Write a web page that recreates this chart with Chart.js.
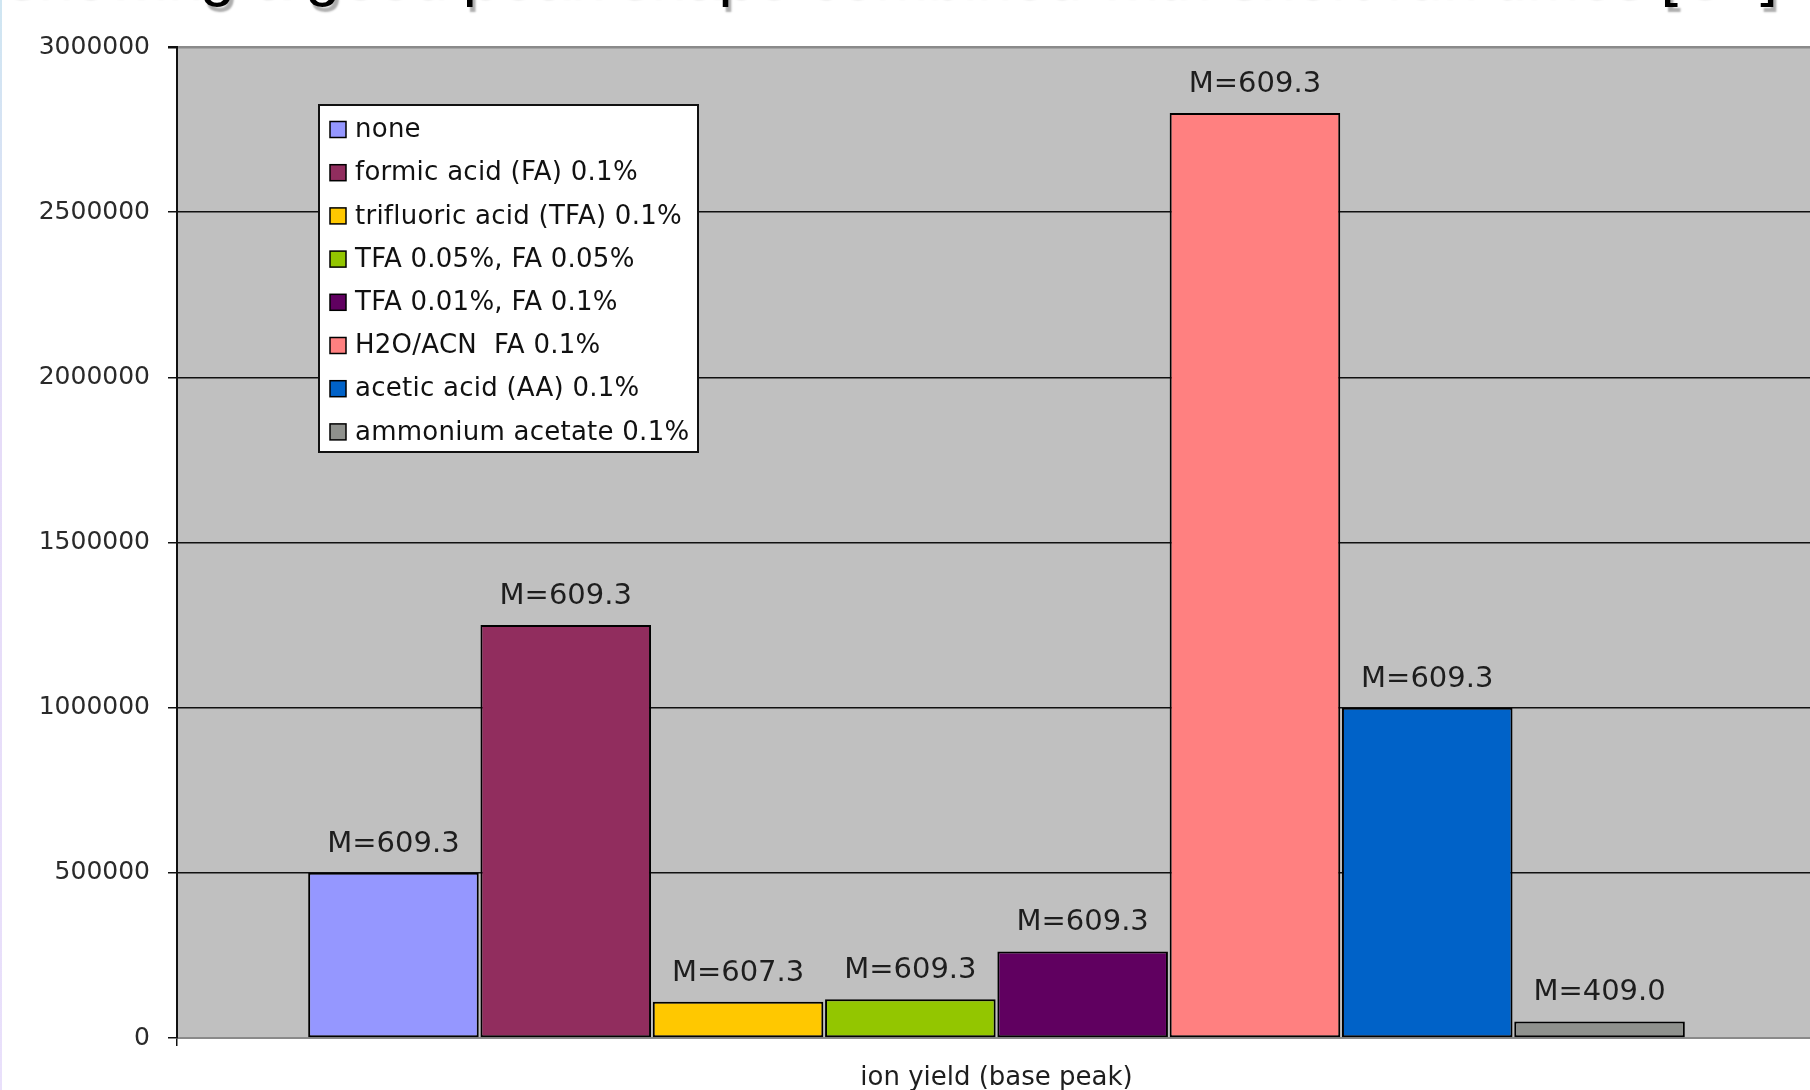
<!DOCTYPE html>
<html>
<head>
<meta charset="utf-8">
<script src="https://cdn.jsdelivr.net/npm/chart.js@4/dist/chart.umd.min.js"></script>
<style>
  html, body { margin: 0; padding: 0; background: #fff; overflow: hidden; }
  #wrap { position: relative; width: 1810px; height: 1090px; overflow: hidden; }
  #chart { position: absolute; left: 0; top: 0; }
  #edge { position: absolute; left: 0; top: 0; width: 2px; height: 1090px;
          background: linear-gradient(#cfe6f2, #e6dcf8 40%, #e9e0fb); }
</style>
</head>
<body>
<div id="wrap">
  <canvas id="chart" width="1830" height="1090"></canvas>
  <div id="edge"></div>
</div>
<script>
// ---- chart data ----
const categories = ['ion yield (base peak)'];
const seriesNames = [
  'none',
  'formic acid (FA) 0.1%',
  'trifluoric acid (TFA) 0.1%',
  'TFA 0.05%, FA 0.05%',
  'TFA 0.01%, FA 0.1%',
  'H2O/ACN  FA 0.1%',
  'acetic acid (AA) 0.1%',
  'ammonium acetate 0.1%'
];
const ionYield = [500000, 1250000, 110000, 117000, 262000, 2800000, 1000000, 50000];
const massLabels = ['M=609.3', 'M=609.3', 'M=607.3', 'M=609.3', 'M=609.3', 'M=609.3', 'M=609.3', 'M=409.0'];
const barColors = ['#9597ff', '#912d5e', '#ffc800', '#93c600', '#600060', '#ff8080', '#0062c8', '#8f918d'];
const yTickValues = [0, 500000, 1000000, 1500000, 2000000, 2500000, 3000000];
const headline = 'showing a good peak shape combined with short run times [C+]';

const FONT = '"DejaVu Sans", "Liberation Sans", sans-serif';

// Headline sitting above the plot (mostly above the canvas top)
const headlinePlugin = {
  id: 'headline',
  afterDraw(chart) {
    const ctx = chart.ctx;
    ctx.save();
    ctx.setTransform(1, 0, 0, 1, 0, 0);
    ctx.font = '63px "Liberation Sans", Arial, sans-serif';
    ctx.textAlign = 'left';
    ctx.textBaseline = 'alphabetic';
    ctx.shadowColor = 'rgba(0,0,0,0.32)';
    ctx.shadowOffsetX = 3;
    ctx.shadowOffsetY = 5;
    ctx.shadowBlur = 2;
    ctx.fillStyle = '#000';
    ctx.fillText(headline, 4, -6);
    ctx.restore();
  }
};

// "M=..." annotations above each bar
const massLabelPlugin = {
  id: 'massLabels',
  afterDatasetsDraw(chart) {
    const ctx = chart.ctx;
    ctx.save();
    ctx.font = '29px ' + FONT;
    ctx.fillStyle = '#1e1e1e';
    ctx.textAlign = 'center';
    ctx.textBaseline = 'alphabetic';
    chart.data.datasets.forEach((ds, i) => {
      const el = chart.getDatasetMeta(i).data[0];
      if (!el) return;
      ctx.fillText(massLabels[i], el.x, el.y - 21);
    });
    ctx.restore();
  }
};

// Boxed legend placed inside the plot area
const boxLegendPlugin = {
  id: 'boxLegend',
  afterDatasetsDraw(chart) {
    const ctx = chart.ctx;
    const x0 = 319, y0 = 105, w = 379, h = 347;
    ctx.save();
    ctx.fillStyle = '#fff';
    ctx.fillRect(x0, y0, w, h);
    ctx.lineWidth = 2;
    ctx.strokeStyle = '#111';
    ctx.strokeRect(x0, y0, w, h);
    ctx.font = '26px ' + FONT;
    ctx.letterSpacing = '0.25px';
    ctx.textBaseline = 'middle';
    ctx.textAlign = 'left';
    chart.data.datasets.forEach((ds, i) => {
      const cy = 129.5 + i * 43.2;
      ctx.fillStyle = ds.backgroundColor;
      ctx.fillRect(330, cy - 8, 16, 16);
      ctx.lineWidth = 1.5;
      ctx.strokeStyle = '#000';
      ctx.strokeRect(330, cy - 8, 16, 16);
      ctx.fillStyle = '#111';
      ctx.fillText(ds.label, 355, cy + 1);
    });
    ctx.restore();
  }
};

// Grey plot-area background
const plotBgPlugin = {
  id: 'plotBg',
  beforeDraw(chart) {
    const { ctx, chartArea: a } = chart;
    ctx.save();
    ctx.fillStyle = '#c0c0c0';
    ctx.fillRect(a.left, a.top, a.right - a.left, a.bottom - a.top);
    ctx.restore();
  }
};

const datasets = seriesNames.map((name, i) => ({
  label: name,
  data: [ionYield[i]],
  backgroundColor: barColors[i],
  borderColor: '#000',
  borderWidth: 2,
  borderSkipped: false
}));

new Chart(document.getElementById('chart'), {
  type: 'bar',
  data: { labels: categories, datasets },
  plugins: [plotBgPlugin, massLabelPlugin, boxLegendPlugin, headlinePlugin],
  options: {
    responsive: false,
    animation: false,
    devicePixelRatio: 1,
    layout: { padding: { top: 47, right: 14, bottom: 0, left: 0 } },
    datasets: { bar: { categoryPercentage: 0.841, barPercentage: 0.99 } },
    plugins: { legend: { display: false }, title: { display: false }, tooltip: { enabled: false } },
    scales: {
      x: {
        offset: true,
        grid: { display: true, drawOnChartArea: false, offset: true, tickLength: 8, color: '#111', lineWidth: 1.5 },
        border: { display: true, color: '#8a8a8a', width: 2 },
        ticks: { color: '#1e1e1e', font: { family: FONT, size: 26 }, padding: 17, maxRotation: 0 },
        afterFit(scale) { scale.height = 52; }
      },
      y: {
        min: 0,
        max: 3000000,
        afterBuildTicks(scale) { scale.ticks = yTickValues.map(v => ({ value: v })); },
        grid: {
          color: ctx => (ctx.tick && (ctx.tick.value === 0 || ctx.tick.value === 3000000)) ? '#8a8a8a' : '#111',
          lineWidth: ctx => (ctx.tick && ctx.tick.value === 3000000) ? 2.5 : 1.5,
          tickColor: '#111',
          tickLength: 9
        },
        border: { display: true, color: '#111', width: 2 },
        ticks: {
          color: '#2a2a2a',
          font: { family: FONT, size: 25 },
          padding: 18,
          callback: v => String(v)
        },
        afterFit(scale) { scale.width = 177; }
      }
    }
  }
});
</script>
</body>
</html>
